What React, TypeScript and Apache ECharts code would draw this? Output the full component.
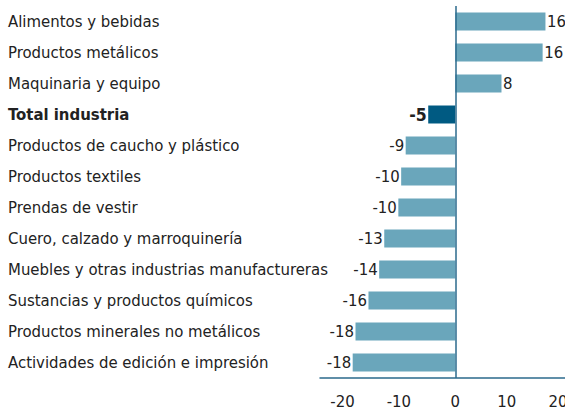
import React, { useEffect, useRef } from "react";
import * as echarts from "echarts";

const categories = [
  "Alimentos y bebidas",
  "Productos metálicos",
  "Maquinaria y equipo",
  "Total industria",
  "Productos de caucho y plástico",
  "Productos textiles",
  "Prendas de vestir",
  "Cuero, calzado y marroquinería",
  "Muebles y otras industrias manufactureras",
  "Sustancias y productos químicos",
  "Productos minerales no metálicos",
  "Actividades de edición e impresión",
];
const values = [16.0, 15.5, 8.2, -4.8, -8.8, -9.6, -10.1, -12.6, -13.5, -15.4, -17.7, -18.2];
const labelValues = [16, 16, 8, -5, -9, -10, -10, -13, -14, -16, -18, -18];
const xTicks = [-20, -10, 0, 10, 20];
const totalName = "Total industria";

const FONT = "'DejaVu Sans Condensed', 'DejaVu Sans', sans-serif";
const FS = 16.6;
const BAR = "#6aa6bb";
const TOTAL = "#005a82";
const AXIS = "#2b6a8c";
const TEXT = "#222222";

export default function App() {
  const ref = useRef<HTMLDivElement>(null);
  useEffect(() => {
    if (!ref.current) return;
    const chart = echarts.init(ref.current, null, { renderer: "svg" });
    const data = values.map((v, i) => {
      const isTotal = categories[i] === totalName;
      return {
        value: v,
        itemStyle: { color: isTotal ? TOTAL : BAR },
        label: {
          show: true,
          position: v >= 0 ? "right" : "left",
          distance: 1.5,
          formatter: String(labelValues[i]),
          fontFamily: FONT,
          fontSize: isTotal ? 17.5 : FS,
          color: TEXT,
          fontWeight: isTotal ? "bold" : "normal",
        },
      };
    });
    chart.setOption({
      animation: false,
      textStyle: { fontFamily: FONT },
      grid: {
        left: 320,
        width: 248,
        top: 6,
        height: 372,
        containLabel: false,
        outerBoundsMode: "none",
      },
      xAxis: {
        type: "value",
        min: -24,
        max: 20,
        splitLine: { show: false },
        axisTick: { show: false },
        axisLine: { show: true, onZero: false, lineStyle: { color: AXIS, width: 1.5 } },
        axisLabel: {
          customValues: xTicks,
          showMaxLabel: true,
          showMinLabel: true,
          hideOverlap: false,
          fontFamily: FONT,
          fontSize: FS,
          color: TEXT,
          margin: 15,
          formatter: (v: number) =>
            v === 20 ? `{p20|${v}}` : v === 10 ? `{p10|${v}}` : `${v}`,
          rich: {
            p10: { fontFamily: FONT, fontSize: FS, color: TEXT, padding: [0, 10, 0, 0] },
            p20: { fontFamily: FONT, fontSize: FS, color: TEXT, padding: [0, 20, 0, 0] },
          },
        },
      },
      yAxis: {
        type: "category",
        data: categories,
        inverse: true,
        axisLine: { show: false, onZero: false },
        axisTick: { show: false },
        splitLine: { show: false },
        axisLabel: {
          align: "left",
          margin: 312,
          fontFamily: FONT,
          fontSize: FS,
          color: TEXT,
          formatter: (v: string) => (v === totalName ? `{b|${v}}` : v),
          rich: {
            b: { fontFamily: FONT, fontSize: FS, fontWeight: "bold", color: TEXT },
          },
        },
      },
      series: [
        {
          type: "bar",
          data,
          barWidth: 18,
          markLine: {
            silent: true,
            symbol: "none",
            label: { show: false },
            lineStyle: { color: AXIS, width: 1.5, type: "solid" },
            data: [{ xAxis: 0 }],
          },
        },
      ],
    });
    return () => chart.dispose();
  }, []);
  return (
    <div
      ref={ref}
      style={{ position: "fixed", left: 0, top: 0, width: 565, height: 412, background: "#fff" }}
    />
  );
}
